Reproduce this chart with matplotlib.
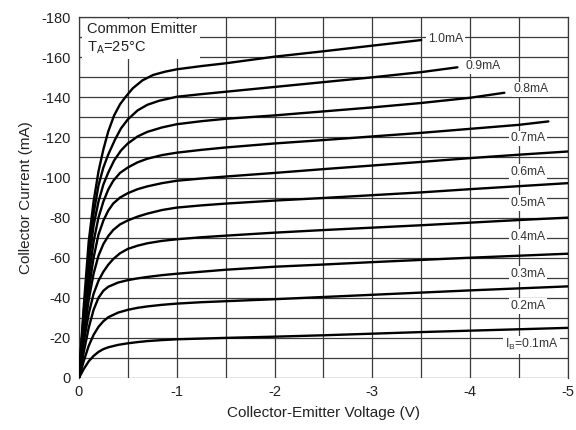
import numpy as np
import matplotlib
matplotlib.use("Agg")
import matplotlib.pyplot as plt
from matplotlib.patches import Rectangle
from matplotlib.ticker import MultipleLocator

plt.rcParams['font.family'] = ['Liberation Sans', 'DejaVu Sans']
plt.rcParams['axes.unicode_minus'] = False

# output characteristics, Vce (V) vs Ic (mA), one curve per base current
v_01 = [0, -0.05, -0.1, -0.15, -0.2, -0.25, -0.3, -0.4, -0.5, -0.6, -0.7, -0.85, -1.0,
        -1.5, -2, -2.5, -3, -3.5, -4, -4.5, -5]
i_01 = [0, -4.5, -8.3, -11, -13, -14.4, -15.3, -16.5, -17.3, -17.9, -18.4, -18.9, -19.3,
        -20, -20.6, -21.3, -22.1, -22.9, -23.6, -24.3, -25]

v_02 = [0, -0.05, -0.1, -0.15, -0.2, -0.25, -0.3, -0.4, -0.5, -0.6, -0.7, -0.85, -1.0,
        -1.25, -1.5, -2, -2.5, -3, -3.5, -4, -4.5, -5]
i_02 = [0, -8.5, -16, -21.5, -25.5, -28.3, -30.3, -32.6, -34, -35, -35.7, -36.5, -37.1,
        -37.8, -38.3, -39.3, -40.4, -41.5, -42.6, -43.7, -44.7, -45.7]

v_03 = [0, -0.05, -0.1, -0.15, -0.2, -0.25, -0.3, -0.4, -0.5, -0.6, -0.7, -0.85, -1.0,
        -1.25, -1.5, -2, -2.5, -3, -3.5, -4, -4.5, -5]
i_03 = [0, -13, -25, -34, -40, -43.5, -45.5, -47.6, -48.8, -49.7, -50.4, -51.3, -52,
        -53, -54, -55.5, -56.6, -57.8, -58.9, -60, -61, -62]

v_04 = [0, -0.05, -0.1, -0.15, -0.2, -0.25, -0.3, -0.35, -0.42, -0.5, -0.6, -0.7, -0.85, -1.0,
        -1.25, -1.5, -2, -2.5, -3, -3.5, -4, -4.5, -5]
i_04 = [0, -18, -32, -42, -48.5, -53, -56.5, -59.3, -62.2, -64.4, -66, -67.2, -68.4, -69.2,
        -70.2, -71, -72.5, -73.8, -75, -76.2, -77.5, -78.8, -80]

v_05 = [0, -0.05, -0.1, -0.15, -0.2, -0.25, -0.3, -0.35, -0.42, -0.5, -0.6, -0.7, -0.85, -1.0,
        -1.25, -1.5, -2, -2.5, -3, -3.5, -4, -4.5, -5]
i_05 = [0, -21, -39, -52, -61, -66.8, -70.8, -73.8, -76.6, -78.6, -80.5, -82, -83.8, -85,
        -86.1, -87, -88.5, -89.8, -91.2, -92.6, -94.2, -95.7, -97.2]

v_06 = [0, -0.05, -0.1, -0.15, -0.2, -0.25, -0.3, -0.35, -0.42, -0.5, -0.6, -0.7, -0.85, -1.0,
        -1.25, -1.5, -2, -2.5, -3, -3.5, -4, -4.5, -5]
i_06 = [0, -24, -44, -60, -71.5, -78.5, -83.5, -87, -90, -92.2, -94.2, -95.6, -97.2, -98.4,
        -99.5, -100.5, -102.3, -104.2, -106, -107.8, -109.7, -111.4, -113]

v_07 = [0, -0.05, -0.1, -0.15, -0.2, -0.25, -0.3, -0.35, -0.42, -0.5, -0.6, -0.7, -0.85, -1.0,
        -1.25, -1.5, -2, -2.5, -3, -3.5, -4, -4.5, -4.8]
i_07 = [0, -27, -50, -68, -80, -88, -94, -98.3, -102.3, -105, -107.6, -109.4, -111.2, -112.4,
        -113.8, -115, -117, -118.7, -120.5, -122.3, -124.3, -126.3, -128]

v_08 = [0, -0.05, -0.1, -0.15, -0.2, -0.25, -0.3, -0.36, -0.43, -0.5, -0.6, -0.7, -0.85, -1.0,
        -1.25, -1.5, -2, -2.5, -3, -3.5, -4, -4.35]
i_08 = [0, -30, -57, -76, -88, -96.5, -102.5, -108.5, -113.5, -117, -120.5, -122.8, -125, -126.6,
        -128.1, -129.3, -131, -133, -135, -137.2, -139.8, -142.3]

v_09 = [0, -0.05, -0.1, -0.15, -0.2, -0.25, -0.3, -0.37, -0.43, -0.5, -0.6, -0.7, -0.82, -1.0,
        -1.25, -1.5, -2, -2.5, -3, -3.5, -3.87]
i_09 = [0, -33, -62, -82, -96, -105, -111.5, -119, -124.5, -129, -133.5, -136.3, -138.3, -140.3,
        -141.6, -142.8, -145.2, -147.6, -150, -152.6, -155]

v_10 = [0, -0.05, -0.1, -0.15, -0.2, -0.25, -0.3, -0.36, -0.42, -0.47, -0.55, -0.65, -0.76, -0.88, -1.0,
        -1.25, -1.5, -2, -2.5, -3, -3.5]
i_10 = [0, -36, -68, -88, -103, -114, -123, -131, -136.5, -139.8, -144.5, -148.5, -151.2, -152.8, -154,
        -155.6, -157, -160.3, -163, -165.8, -168.6]

curves = [(v_01, i_01), (v_02, i_02), (v_03, i_03), (v_04, i_04), (v_05, i_05),
          (v_06, i_06), (v_07, i_07), (v_08, i_08), (v_09, i_09), (v_10, i_10)]

labels = ['I$_\\mathregular{B}$=0.1mA', '0.2mA', '0.3mA', '0.4mA', '0.5mA',
          '0.6mA', '0.7mA', '0.8mA', '0.9mA', '1.0mA']
label_v = [-4.63, -4.59, -4.59, -4.59, -4.59, -4.59, -4.59, -4.62, -4.13, -3.75]
label_i = [-16.5, -35.9, -51.8, -70.3, -87.3, -102.7, -119.6, -144, -155.5, -169]

fig = plt.figure(figsize=(5.76, 4.30), dpi=100)
ax = fig.add_axes([0.137, 0.121, 0.849, 0.839])

for v, i in curves:
    ax.plot(v, i, color='black', lw=1.7, solid_capstyle='round', solid_joinstyle='round', zorder=3)

for txt, lv, li in zip(labels, label_v, label_i):
    ax.text(lv, li, txt, fontsize=8.7, color='#333333', ha='center', va='center', zorder=4,
            bbox=dict(facecolor='white', edgecolor='none', pad=1.2))

# white panel behind the test conditions
ax.add_patch(Rectangle((-0.03, -179), -1.21, 20, facecolor='white', edgecolor='none', zorder=2))
ax.text(-0.08, -174, 'Common Emitter', fontsize=10.5, color='#222222', ha='left', va='center', zorder=4)
ax.text(-0.08, -165, 'T$_\\mathregular{A}$=25°C', fontsize=10.5, color='#222222', ha='left',
        va='center', zorder=4)

ax.set_xlim(0, -5)
ax.set_ylim(0, -180)
ax.xaxis.set_major_locator(MultipleLocator(1))
ax.xaxis.set_minor_locator(MultipleLocator(0.5))
ax.yaxis.set_major_locator(MultipleLocator(20))
ax.yaxis.set_minor_locator(MultipleLocator(10))
ax.grid(which='both', color='#3a3a3a', lw=0.9, zorder=1)
ax.set_axisbelow(True)
ax.tick_params(which='both', length=0, labelsize=10.5, colors='#222222')
ax.tick_params(axis='y', pad=6)
ax.tick_params(axis='x', pad=5)

ax.spines['bottom'].set_visible(False)
for s in ['left', 'top', 'right']:
    ax.spines[s].set_color('#3a3a3a')
    ax.spines[s].set_linewidth(0.9)

ax.set_xlabel('Collector-Emitter Voltage (V)', fontsize=11, color='#222222', labelpad=5)
ax.set_ylabel('Collector Current (mA)', fontsize=11, color='#222222', labelpad=6)

fig.savefig('out.png', dpi=100)
